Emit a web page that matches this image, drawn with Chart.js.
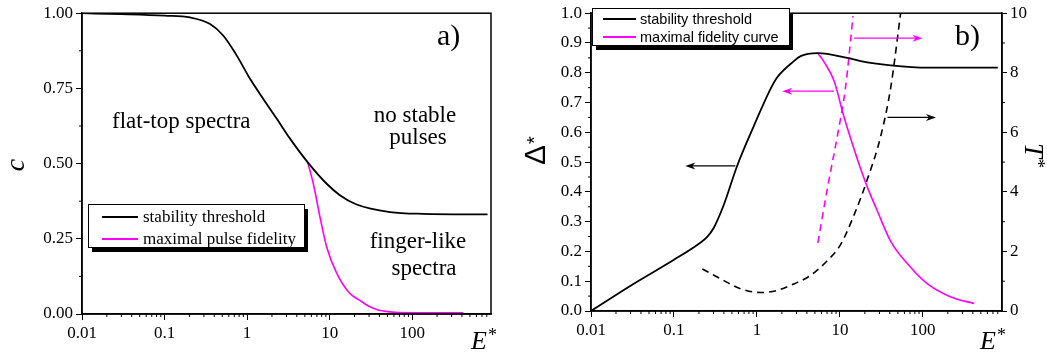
<!DOCTYPE html>
<html>
<head>
<meta charset="utf-8">
<script src="https://cdn.jsdelivr.net/npm/chart.js@4.4.0/dist/chart.umd.min.js"></script>
<style>
  html, body { margin: 0; padding: 0; background: #fff; }
  #wrap { position: relative; width: 1047px; height: 352px; overflow: hidden; }
  canvas { position: absolute; top: 0; }
  #chartA { left: 0; }
  #chartB { left: 505px; }
</style>
</head>
<body>
<div id="wrap">
  <canvas id="chartA" width="505" height="352"></canvas>
  <canvas id="chartB" width="542" height="352"></canvas>
</div>
<script>
// ---- data ----
const eTicks = [0.01, 0.1, 1, 10, 100];
const eMax = 900;

// panel a: c vs E*
const aStabE = [0.01, 0.03, 0.1, 0.204, 0.356, 0.516, 0.75, 1.09, 1.57, 2.29, 3.31, 5.4, 9.2, 13.3, 21.2, 53.7, 135, 817];
const aStabC = [1.0, 0.997, 0.992, 0.986, 0.964, 0.925, 0.859, 0.781, 0.715, 0.649, 0.583, 0.505, 0.433, 0.395, 0.364, 0.339, 0.333, 0.331];
const aFidE = [5.4, 6.34, 7.64, 9.2, 12.2, 17.6, 23.3, 28, 37, 53.7, 100, 410];
const aFidC = [0.505, 0.433, 0.322, 0.223, 0.135, 0.068, 0.045, 0.03, 0.015, 0.007, 0.004, 0.004];
const aYTicks = [0, 0.25, 0.5, 0.75, 1];
const aYMinor = [0.125, 0.375, 0.625, 0.875];

// panel b: Delta* (left) and T* (right) vs E*
const bStabE = [0.01, 0.03, 0.1, 0.2, 0.25, 0.30, 0.397, 0.577, 0.914, 1.455, 1.75, 2.79, 3.36, 5.4, 12.3, 17.8, 41, 114, 800];
const bStabD = [0, 0.085, 0.172, 0.226, 0.248, 0.278, 0.355, 0.487, 0.62, 0.745, 0.784, 0.839, 0.856, 0.866, 0.850, 0.839, 0.825, 0.817, 0.817];
const bFidE = [5.4, 6.5, 8.5, 11.2, 16.3, 21.5, 28.4, 41, 71.6, 114, 218, 417];
const bFidD = [0.866, 0.835, 0.773, 0.652, 0.509, 0.415, 0.335, 0.234, 0.146, 0.091, 0.047, 0.025];
const bTStabE = [0.22, 0.3, 0.4, 0.63, 1.1, 1.7, 2.8, 4.4, 7.0, 10.2, 14.8, 21.5, 31, 41, 54];
const bTStab = [1.41, 1.21, 1.02, 0.75, 0.62, 0.68, 0.91, 1.19, 1.68, 2.23, 3.22, 4.43, 5.86, 7.5, 10.0];
const bTFidE = [5.43, 7.05, 9.3, 11.7, 14.4];
const bTFid = [2.29, 4.10, 5.86, 7.51, 9.9];
const bYTicks = [0, 0.1, 0.2, 0.3, 0.4, 0.5, 0.6, 0.7, 0.8, 0.9, 1.0];
const bYMinor = [0.05, 0.15, 0.25, 0.35, 0.45, 0.55, 0.65, 0.75, 0.85, 0.95];
const bTTicks = [0, 2, 4, 6, 8, 10];
const bTMinor = [1, 3, 5, 7, 9];

// arrows in panel b (which axis each curve belongs to)
const arrowFromE = [0.55, 8.47, 14.8, 37.4];
const arrowToE = [0.137, 2.02, 99, 144];
const arrowVal = [0.487, 0.738, 9.16, 6.50];
const arrowAxis = ['y', 'y', 'y2', 'y2'];
const arrowColor = ['#000', '#ff00ff', '#ff00ff', '#000'];

const MAG = '#ff00ff';
const SERIF = '"Liberation Serif", "Times New Roman", serif';
const SANS = '"Liberation Sans", Arial, sans-serif';

const zip = (xs, ys) => xs.map((x, i) => ({ x, y: ys[i] }));

// minor log ticks 2..9 per decade
const eMinor = [];
for (let d = 0.01; d < eMax; d *= 10) {
  for (let m = 2; m <= 9; m++) {
    const v = +(m * d).toPrecision(3);
    if (v < eMax) eMinor.push(v);
  }
}

function line(ctx, x0, y0, x1, y1) {
  ctx.beginPath(); ctx.moveTo(x0, y0); ctx.lineTo(x1, y1); ctx.stroke();
}

function xAxis(height) {
  return {
    type: 'logarithmic', min: 0.01, max: eMax,
    afterBuildTicks: (s) => { s.ticks = eTicks.map(v => ({ value: v })); },
    afterFit: (s) => { s.height = height; },
    ticks: { callback: (v) => String(v), autoSkip: false, maxRotation: 0, padding: 3,
             color: '#000', font: { family: SERIF, size: 17 } },
    grid: { drawOnChartArea: false, tickLength: 6, color: '#000', tickColor: '#000' },
    border: { color: '#000', width: 1.5 }
  };
}

function yAxis(ticks, digits, width, pos, tickLen) {
  return {
    type: 'linear', position: pos, min: ticks[0], max: ticks[ticks.length - 1],
    afterBuildTicks: (s) => { s.ticks = ticks.map(v => ({ value: v })); },
    afterFit: (s) => { s.width = width; },
    ticks: { callback: (v) => Number(v).toFixed(digits), autoSkip: false, padding: 3,
             color: '#000', font: { family: SERIF, size: 17 } },
    grid: { drawOnChartArea: false, tickLength: tickLen, color: '#000', tickColor: '#000' },
    border: { color: '#000', width: 1.5 }
  };
}

// frame, minor ticks
function framePlugin(minors) {
  return {
    id: 'frame',
    afterDraw(chart) {
      const { ctx, chartArea: a, scales } = chart;
      ctx.save();
      ctx.strokeStyle = '#000';
      ctx.lineWidth = 1.5;
      ctx.strokeRect(a.left, a.top, a.right - a.left, a.bottom - a.top);
      ctx.lineWidth = 1;
      minors.forEach(([id, vals]) => {
        const s = scales[id];
        vals.forEach(v => {
          const p = s.getPixelForValue(v);
          if (id === 'x') line(ctx, p, a.bottom, p, a.bottom + 3);
          else if (s.position === 'left') line(ctx, a.left - 3, p, a.left, p);
          else line(ctx, a.right, p, a.right + 3, p);
        });
      });
      ctx.restore();
    }
  };
}

// legend with drop shadow, like Origin
function legendPlugin(box, font, lineX0, lineX1, textX, rows) {
  return {
    id: 'shadowLegend',
    afterDraw(chart) {
      const ctx = chart.ctx;
      const [x, y, w, h] = box;
      ctx.save();
      ctx.fillStyle = '#000';
      ctx.fillRect(x + 4, y + 5, w, h);
      ctx.fillStyle = '#fff';
      ctx.fillRect(x, y, w, h);
      ctx.strokeStyle = '#000';
      ctx.lineWidth = 1;
      ctx.strokeRect(x + 0.5, y + 0.5, w, h);
      ctx.font = font;
      ctx.textBaseline = 'middle';
      ctx.textAlign = 'left';
      rows.forEach((ry, i) => {
        const ds = chart.data.datasets[i];
        ctx.strokeStyle = ds.borderColor;
        ctx.lineWidth = 1.8;
        line(ctx, lineX0, ry, lineX1, ry);
        ctx.fillStyle = '#000';
        ctx.fillText(ds.label, textX, ry + 1);
      });
      ctx.restore();
    }
  };
}

function textPlugin(draw) {
  return { id: 'texts', afterDraw(chart) { const ctx = chart.ctx; ctx.save(); draw(ctx); ctx.restore(); } };
}

function starLabel(ctx, x, y, letter) {
  ctx.fillStyle = '#000';
  ctx.textAlign = 'left';
  ctx.textBaseline = 'alphabetic';
  ctx.font = 'italic 26px ' + SERIF;
  ctx.fillText(letter, x, y);
  const w = ctx.measureText(letter).width;
  ctx.font = '18px ' + SERIF;
  ctx.fillText('*', x + w + 1, y - 8);
}

const arrowPlugin = {
  id: 'arrows',
  afterDatasetsDraw(chart) {
    const { ctx, scales } = chart;
    ctx.save();
    arrowFromE.forEach((e0, i) => {
      const x0 = scales.x.getPixelForValue(e0);
      const x1 = scales.x.getPixelForValue(arrowToE[i]);
      const y = scales[arrowAxis[i]].getPixelForValue(arrowVal[i]);
      const dir = Math.sign(x1 - x0);
      ctx.strokeStyle = arrowColor[i];
      ctx.fillStyle = arrowColor[i];
      ctx.lineWidth = 1.2;
      line(ctx, x0, y, x1 - dir * 6, y);
      ctx.beginPath();
      ctx.moveTo(x1, y);
      ctx.lineTo(x1 - dir * 10, y - 3.5);
      ctx.lineTo(x1 - dir * 7, y);
      ctx.lineTo(x1 - dir * 10, y + 3.5);
      ctx.closePath();
      ctx.fill();
    });
    ctx.restore();
  }
};

const curve = (label, data, color, extra) => Object.assign({
  label, data, borderColor: color, backgroundColor: color, borderWidth: 1.8,
  pointRadius: 0, cubicInterpolationMode: 'monotone', fill: false
}, extra || {});

// ---- panel a ----
new Chart(document.getElementById('chartA'), {
  type: 'line',
  data: {
    datasets: [
      curve('stability threshold', zip(aStabE, aStabC), '#000'),
      curve('maximal pulse fidelity', zip(aFidE, aFidC), MAG, { borderWidth: 1.6 })
    ]
  },
  options: {
    responsive: false, animation: false, events: [],
    layout: { padding: { left: 0, right: 14, top: 12, bottom: 0 } },
    plugins: { legend: { display: false }, tooltip: { enabled: false } },
    scales: { x: xAxis(38), y: yAxis(aYTicks, 2, 82, 'left', 6) }
  },
  plugins: [
    framePlugin([['x', eMinor], ['y', aYMinor]]),
    legendPlugin([88, 204, 216, 43], '17px ' + SERIF, 102, 138, 143, [217, 239]),
    textPlugin((ctx) => {
      ctx.fillStyle = '#000';
      ctx.textBaseline = 'alphabetic';
      ctx.font = '23px ' + SERIF;
      ctx.textAlign = 'left';
      ctx.fillText('flat-top spectra', 112, 128);
      ctx.textAlign = 'center';
      ctx.fillText('no stable', 415, 122);
      ctx.fillText('pulses', 418, 144);
      ctx.fillText('finger-like', 418, 248);
      ctx.fillText('spectra', 424, 275);
      ctx.textAlign = 'left';
      ctx.font = '30px ' + SERIF;
      ctx.fillText('a)', 437, 45);
      starLabel(ctx, 471, 349, 'E');
      // y title "c", rotated
      ctx.translate(24, 165);
      ctx.rotate(-Math.PI / 2);
      ctx.font = 'italic 28px ' + SERIF;
      ctx.textAlign = 'center';
      ctx.fillText('c', 0, 0);
    })
  ]
});

// ---- panel b ----
new Chart(document.getElementById('chartB'), {
  type: 'line',
  data: {
    datasets: [
      curve('stability threshold', zip(bStabE, bStabD), '#000', { yAxisID: 'y' }),
      curve('maximal fidelity curve', zip(bFidE, bFidD), MAG, { yAxisID: 'y', borderWidth: 1.6 }),
      curve('T stability', zip(bTStabE, bTStab), '#000', { yAxisID: 'y2', borderWidth: 1.6, borderDash: [7, 5] }),
      curve('T fidelity', zip(bTFidE, bTFid), MAG, { yAxisID: 'y2', borderWidth: 1.6, borderDash: [7, 5] })
    ]
  },
  options: {
    responsive: false, animation: false, events: [],
    layout: { padding: { left: 0, right: 0, top: 8, bottom: 0 } },
    plugins: { legend: { display: false }, tooltip: { enabled: false } },
    scales: {
      x: xAxis(41),
      y: yAxis(bYTicks, 1, 86, 'left', 6),
      y2: yAxis(bTTicks, 0, 45, 'right', 5)
    }
  },
  plugins: [
    arrowPlugin,
    framePlugin([['x', eMinor], ['y', bYMinor], ['y2', bTMinor]]),
    legendPlugin([87, 8, 197, 37], '14.5px ' + SANS, 98, 131, 135, [19, 37]),
    textPlugin((ctx) => {
      ctx.fillStyle = '#000';
      ctx.textBaseline = 'alphabetic';
      ctx.textAlign = 'left';
      ctx.font = '30px ' + SERIF;
      ctx.fillText('b)', 450, 45);
      starLabel(ctx, 475, 349, 'E');
      // left title Delta*
      ctx.save();
      ctx.translate(40, 154);
      ctx.rotate(-Math.PI / 2);
      ctx.font = '30px ' + SANS;
      ctx.fillText('\u0394', -11, 0);
      ctx.font = '20px ' + SANS;
      ctx.fillText('*', 10, -4);
      ctx.restore();
      // right title T*
      ctx.save();
      ctx.translate(520, 143);
      ctx.rotate(Math.PI / 2);
      ctx.font = 'italic 27px ' + SERIF;
      ctx.fillText('T', 0, 0);
      const w = ctx.measureText('T').width;
      ctx.font = '18px ' + SERIF;
      ctx.fillText('*', w + 1, -7);
      ctx.restore();
    })
  ]
});
</script>
</body>
</html>
